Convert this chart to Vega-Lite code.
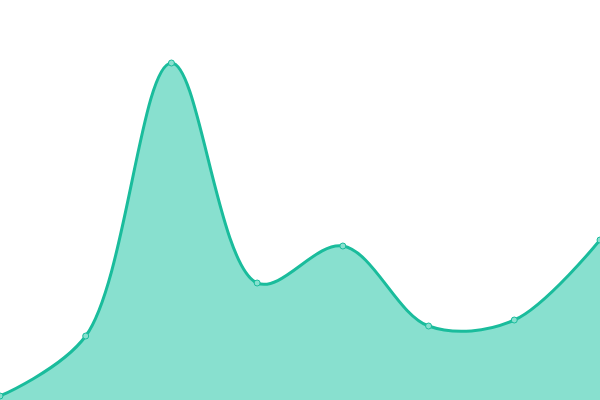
{
  "$schema": "https://vega.github.io/schema/vega-lite/v6.json",
  "width": 600,
  "height": 400,
  "autosize": {"type": "none"},
  "padding": 0,
  "background": "white",
  "config": {"view": {"stroke": null}},
  "data": {
    "values": [
      {"i": 0, "v": 4},
      {"i": 1, "v": 64},
      {"i": 2, "v": 337},
      {"i": 3, "v": 117},
      {"i": 4, "v": 154},
      {"i": 5, "v": 74},
      {"i": 6, "v": 80},
      {"i": 7, "v": 160}
    ]
  },
  "encoding": {
    "x": {"field": "i", "type": "quantitative", "axis": null, "scale": {"domain": [0, 7], "nice": false, "zero": false}},
    "y": {"field": "v", "type": "quantitative", "axis": null, "scale": {"domain": [0, 400], "nice": false}}
  },
  "layer": [
    {
      "mark": {"type": "area", "interpolate": "catmull-rom", "color": "#88e0cf", "opacity": 1}
    },
    {
      "mark": {"type": "line", "interpolate": "catmull-rom", "color": "#1abc9c", "strokeWidth": 3}
    },
    {
      "mark": {"type": "point", "filled": true, "fill": "#88e0cf", "stroke": "#1abc9c", "strokeWidth": 1, "size": 36, "opacity": 1}
    }
  ]
}
